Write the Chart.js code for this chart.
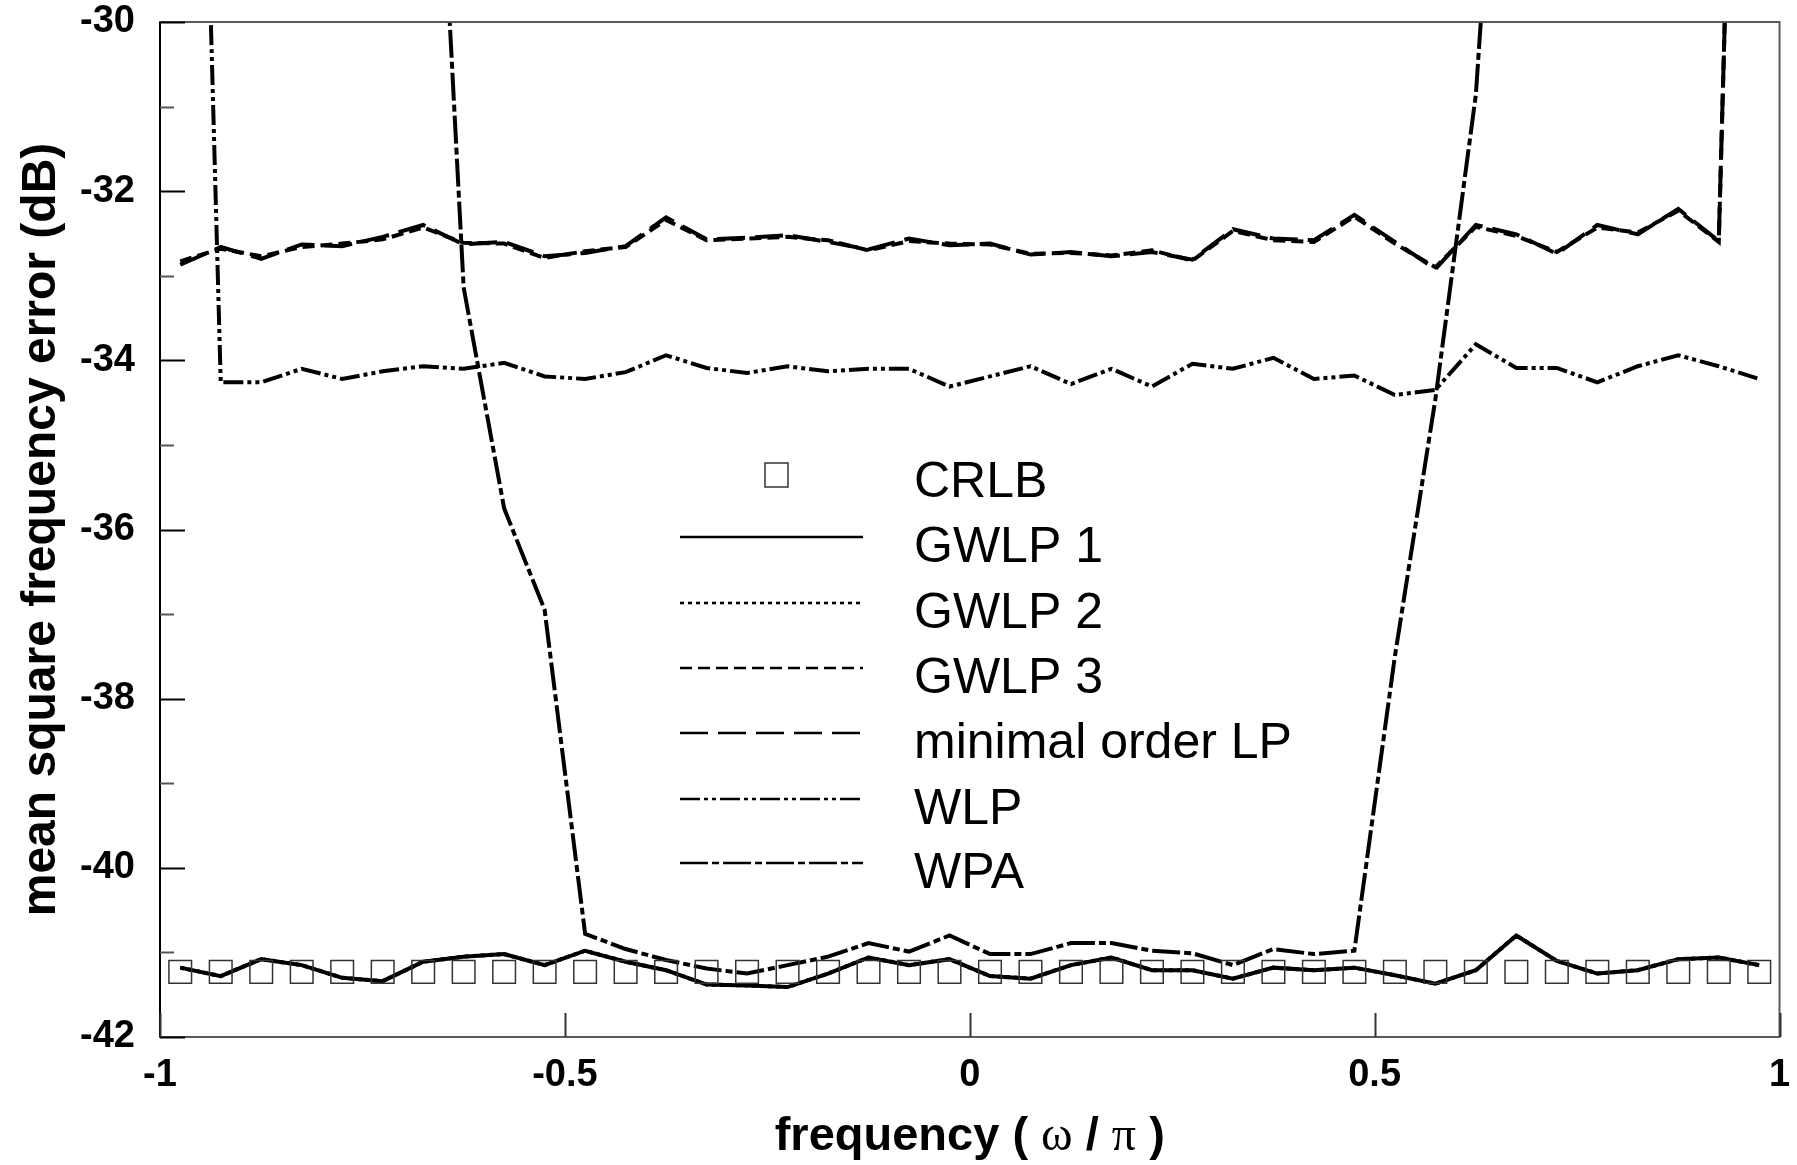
<!DOCTYPE html>
<html>
<head>
<meta charset="utf-8">
<script src="https://cdn.jsdelivr.net/npm/chart.js@4.4.1/dist/chart.umd.min.js"></script>
<style>
  html, body { margin: 0; padding: 0; background: #fff; }
  #contenedor { width: 1797px; height: 1165px; }
</style>
</head>
<body>
<div id="contenedor"><canvas id="grafico" width="1797" height="1165"></canvas></div>
<script>
// frecuencia normalizada (omega / pi)
const frecuencias = [
  -0.975, -0.925, -0.875, -0.825, -0.775, -0.725, -0.675, -0.625, -0.575, -0.525,
  -0.475, -0.425, -0.375, -0.325, -0.275, -0.225, -0.175, -0.125, -0.075, -0.025,
  0.025, 0.075, 0.125, 0.175, 0.225, 0.275, 0.325, 0.375, 0.425, 0.475,
  0.525, 0.575, 0.625, 0.675, 0.725, 0.775, 0.825, 0.875, 0.925, 0.975
];

const crlb = [
  -41.23, -41.23, -41.23, -41.23, -41.23, -41.23, -41.23, -41.23, -41.23, -41.23,
  -41.23, -41.23, -41.23, -41.23, -41.23, -41.23, -41.23, -41.23, -41.23, -41.23,
  -41.23, -41.23, -41.23, -41.23, -41.23, -41.23, -41.23, -41.23, -41.23, -41.23,
  -41.23, -41.23, -41.23, -41.23, -41.23, -41.23, -41.23, -41.23, -41.23, -41.23
];

const gwlp1 = [
  -41.18, -41.28, -41.08, -41.15, -41.30, -41.34, -41.11, -41.05, -41.02, -41.15,
  -40.98, -41.11, -41.21, -41.38, -41.39, -41.41, -41.25, -41.06, -41.15, -41.08,
  -41.28, -41.31, -41.15, -41.06, -41.21, -41.21, -41.31, -41.18, -41.21, -41.18,
  -41.27, -41.37, -41.21, -40.80, -41.10, -41.25, -41.21, -41.08, -41.06, -41.15
];

// queda tapada por GWLP 1
const gwlp2 = [
  -41.18, -41.28, -41.08, -41.15, -41.30, -41.34, -41.11, -41.05, -41.02, -41.15,
  -40.98, -41.11, -41.21, -41.38, -41.39, -41.41, -41.25, -41.06, -41.15, -41.08,
  -41.28, -41.31, -41.15, -41.06, -41.21, -41.21, -41.31, -41.18, -41.21, -41.18,
  -41.27, -41.37, -41.21, -40.80, -41.10, -41.25, -41.21, -41.08, -41.06, -41.15
];

const gwlp3 = [
  -32.83, -32.68, -32.77, -32.66, -32.62, -32.57, -32.43, -32.61, -32.62, -32.79,
  -32.71, -32.66, -32.34, -32.58, -32.56, -32.54, -32.58, -32.70, -32.59, -32.62,
  -32.63, -32.74, -32.73, -32.76, -32.70, -32.82, -32.47, -32.58, -32.60, -32.30,
  -32.62, -32.90, -32.42, -32.53, -32.72, -32.43, -32.49, -32.23, -32.60, -15.0
];

const ordenMinimo = [
  -32.87, -32.66, -32.80, -32.63, -32.65, -32.54, -32.40, -32.63, -32.60, -32.77,
  -32.73, -32.65, -32.31, -32.57, -32.55, -32.52, -32.60, -32.69, -32.56, -32.64,
  -32.62, -32.75, -32.72, -32.77, -32.72, -32.81, -32.45, -32.56, -32.58, -32.28,
  -32.60, -32.92, -32.40, -32.51, -32.74, -32.40, -32.51, -32.21, -32.59, -15.0
];

const wlp = [
  -16.8, -34.26, -34.26, -34.10, -34.22, -34.13, -34.07, -34.10, -34.03, -34.19,
  -34.22, -34.14, -33.94, -34.09, -34.15, -34.07, -34.13, -34.10, -34.10, -34.31,
  -34.19, -34.07, -34.28, -34.10, -34.31, -34.04, -34.10, -33.97, -34.22, -34.18,
  -34.41, -34.35, -33.81, -34.09, -34.09, -34.26, -34.07, -33.94, -34.07, -34.22
];

const wpa = [
  null, null, null, null, null, null, -24.0, -33.14, -35.75, -36.95,
  -40.78, -40.96, -41.09, -41.19, -41.25, -41.15, -41.05, -40.89, -40.99, -40.80,
  -41.02, -41.02, -40.89, -40.89, -40.98, -41.01, -41.15, -40.96, -41.02, -40.98,
  -37.50, -34.46, -30.86, -23.8, null, null, null, null, null, null
];

const ticksX = [-1, -0.5, 0, 0.5, 1];
const ticksY = [-42, -41, -40, -39, -38, -37, -36, -35, -34, -33, -32, -31, -30];

const fuente = "'Liberation Sans', Arial, Helvetica, sans-serif";
const fuenteSerif = "'Liberation Serif', 'Times New Roman', Times, serif";

function puntos(valores) {
  return valores.map((v, i) => ({ x: frecuencias[i], y: v }));
}

function serie(etiqueta, valores, trazo) {
  return {
    label: etiqueta,
    data: puntos(valores),
    borderColor: "#000",
    borderWidth: 4,
    borderDash: trazo,
    borderCapStyle: "butt",
    pointRadius: 0,
    tension: 0,
    fill: false,
    spanGaps: false,
    clip: 0,
  };
}

// ticks hacia adentro, marco, titulo del eje x y leyenda dentro del grafico
const marcoYLeyenda = {
  id: "marcoYLeyenda",
  afterDatasetsDraw(chart) {
    const c = chart.ctx;
    const a = chart.chartArea;
    const ejeX = chart.scales.x;
    const ejeY = chart.scales.y;

    c.save();
    c.setLineDash([]);
    c.strokeStyle = "#5a5a5a";
    c.lineWidth = 2;
    c.strokeRect(a.left, a.top, a.right - a.left, a.bottom - a.top);
    c.strokeStyle = "#000";
    c.beginPath();
    c.moveTo(a.left, a.top);
    c.lineTo(a.left, a.bottom);
    c.stroke();

    ticksY.forEach((v) => {
      const py = Math.round(ejeY.getPixelForValue(v)) + 0.5;
      const largo = v % 2 === 0 ? 25 : 14;
      c.strokeStyle = v % 2 === 0 ? "#000" : "#555";
      c.lineWidth = 2;
      c.beginPath();
      c.moveTo(a.left, py);
      c.lineTo(a.left + largo, py);
      c.stroke();
    });

    ticksX.forEach((v) => {
      const px = Math.round(ejeX.getPixelForValue(v)) + 0.5;
      c.strokeStyle = "#333";
      c.lineWidth = 2;
      c.beginPath();
      c.moveTo(px, a.bottom);
      c.lineTo(px, a.bottom - 24);
      c.stroke();
    });

    // titulo del eje x con letras griegas en serif
    const partes = [
      { t: "frequency ( ", f: "bold 47px " + fuente },
      { t: "\u03c9", f: "48px " + fuenteSerif },
      { t: " / ", f: "bold 47px " + fuente },
      { t: "\u03c0", f: "48px " + fuenteSerif },
      { t: " )", f: "bold 47px " + fuente },
    ];
    let total = 0;
    partes.forEach((p) => { c.font = p.f; p.w = c.measureText(p.t).width; total += p.w; });
    let xt = (a.left + a.right) / 2 - total / 2;
    c.fillStyle = "#000";
    c.textAlign = "left";
    c.textBaseline = "alphabetic";
    partes.forEach((p) => { c.font = p.f; c.fillText(p.t, xt, 1150); xt += p.w; });

    // leyenda
    const filas = [478, 543, 609, 674, 739, 805, 869];
    chart.data.datasets.forEach((ds, i) => {
      const yl = filas[i];
      if (ds.showLine === false) {
        c.setLineDash([]);
        c.strokeStyle = "#333";
        c.lineWidth = 1.5;
        c.strokeRect(765, yl - 15, 23, 24);
      } else {
        c.setLineDash(ds.borderDash || []);
        c.strokeStyle = "#000";
        c.lineWidth = 2.6;
        c.beginPath();
        c.moveTo(680, yl - 6);
        c.lineTo(863, yl - 6);
        c.stroke();
      }
      c.setLineDash([]);
      c.fillStyle = "#000";
      c.font = "50px " + fuente;
      c.textAlign = "left";
      c.textBaseline = "middle";
      c.fillText(ds.label, 914, yl + 5);
    });
    c.restore();
  },
};

const ctx = document.getElementById("grafico").getContext("2d");
new Chart(ctx, {
  type: "line",
  data: {
    datasets: [
      {
        label: "CRLB",
        data: puntos(crlb),
        showLine: false,
        pointStyle: "rect",
        pointRadius: 16,
        pointBorderWidth: 1.5,
        pointBorderColor: "#333",
        pointBackgroundColor: "rgba(0,0,0,0)",
      },
      serie("GWLP 1", gwlp1, []),
      serie("GWLP 2", gwlp2, [4, 4]),
      serie("GWLP 3", gwlp3, [12, 6]),
      serie("minimal order LP", ordenMinimo, [28, 10]),
      serie("WLP", wlp, [20, 4, 4, 4, 4, 4]),
      serie("WPA", wpa, [28, 4, 7, 4]),
    ],
  },
  options: {
    responsive: false,
    animation: false,
    devicePixelRatio: 1,
    layout: { padding: 0 },
    plugins: {
      legend: { display: false },
      tooltip: { enabled: false },
    },
    scales: {
      x: {
        type: "linear",
        min: -1,
        max: 1,
        afterFit: (eje) => {
          eje.height = 128;
          eje.paddingLeft = 0;
          eje.paddingRight = 13;
        },
        afterBuildTicks: (eje) => { eje.ticks = ticksX.map((v) => ({ value: v })); },
        ticks: {
          color: "#000",
          padding: 16,
          maxRotation: 0,
          font: { family: fuente, size: 38, weight: "bold" },
          callback: (v) => String(v),
        },
        grid: { display: false, drawTicks: false },
        border: { display: false },
        title: { display: false },
      },
      y: {
        type: "linear",
        min: -42,
        max: -30,
        afterFit: (eje) => {
          eje.width = 160;
          eje.paddingTop = 22;
          eje.paddingBottom = 0;
        },
        ticks: {
          stepSize: 2,
          color: "#000",
          padding: 25,
          font: { family: fuente, size: 38, weight: "bold" },
          callback: (v) => String(v),
        },
        grid: { display: false, drawTicks: false },
        border: { display: false },
        title: {
          display: true,
          text: "mean square frequency error (dB)",
          color: "#000",
          font: { family: fuente, size: 48, weight: "bold" },
          padding: { top: 13, bottom: 0 },
        },
      },
    },
  },
  plugins: [marcoYLeyenda],
});
</script>
</body>
</html>
